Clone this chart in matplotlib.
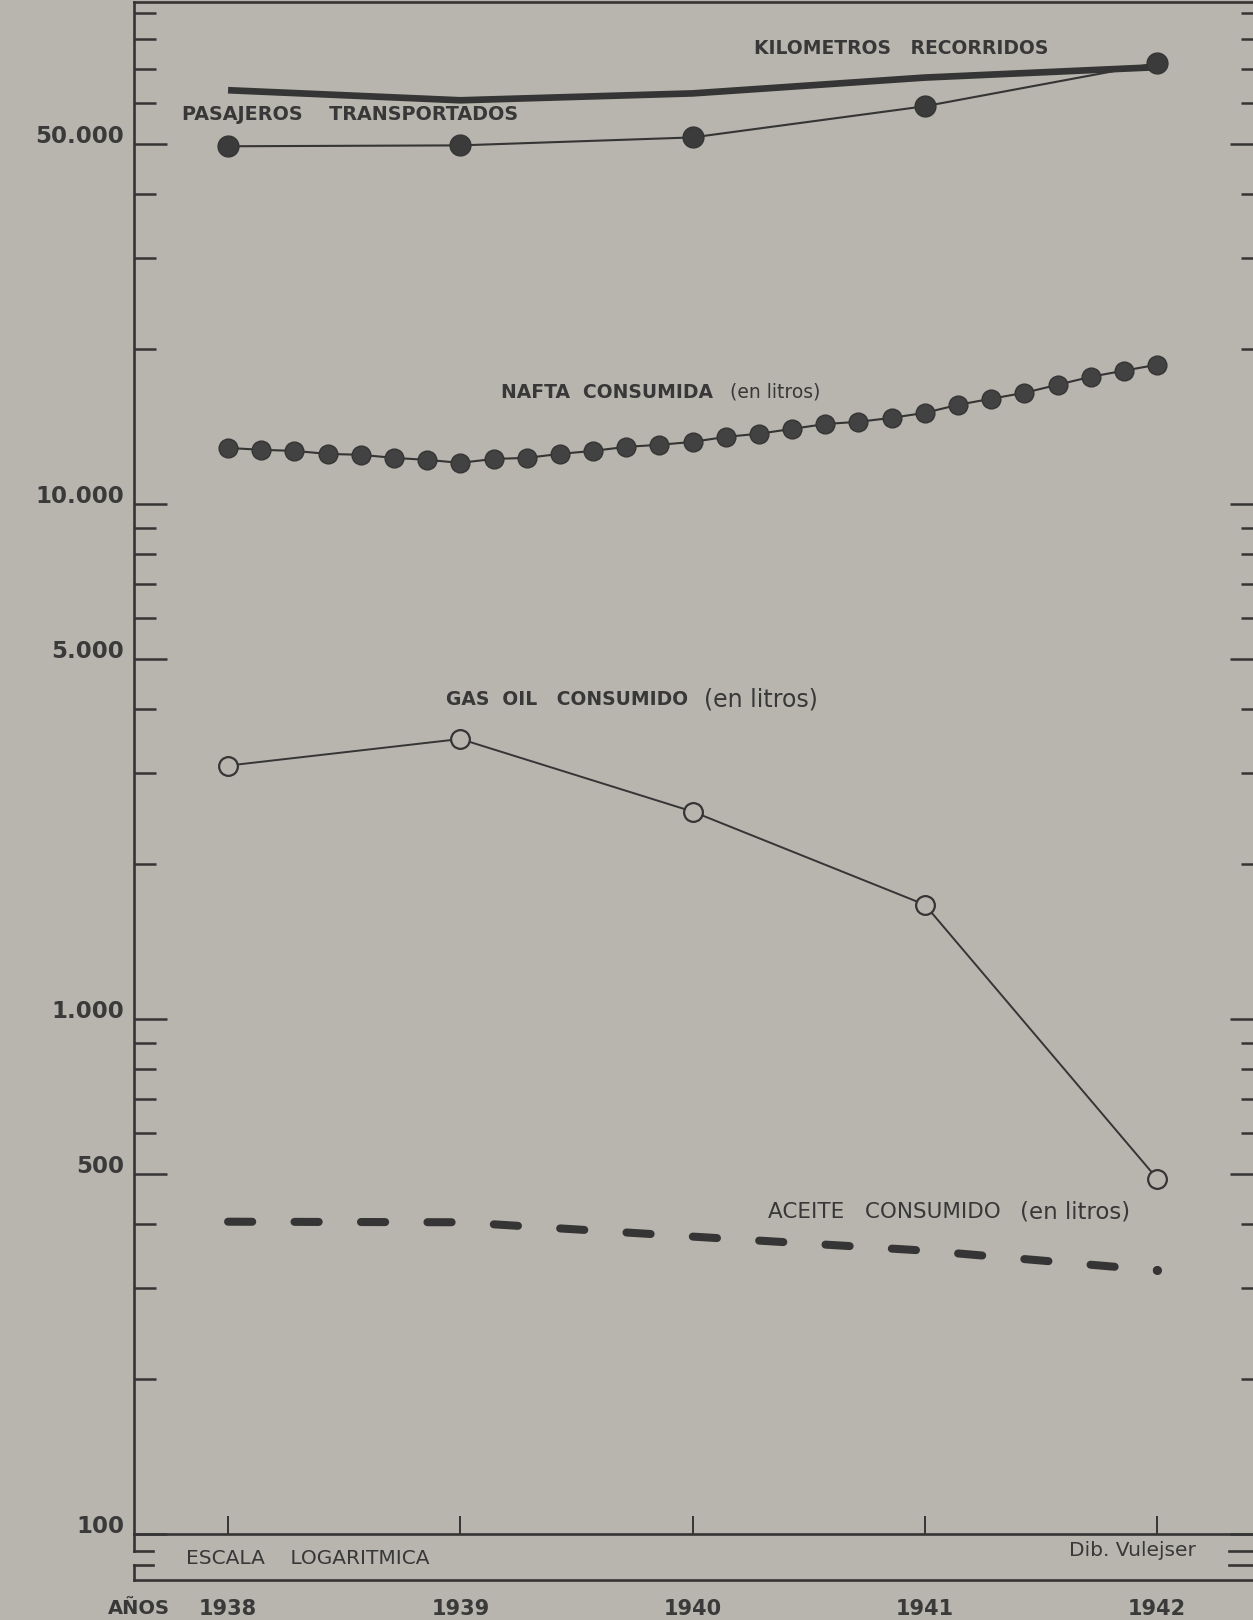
import numpy as np
import matplotlib
matplotlib.use("Agg")
from matplotlib import pyplot as plt
from matplotlib.lines import Line2D
from matplotlib.ticker import FixedLocator, FixedFormatter, NullFormatter
import matplotlib.transforms as mtransforms

W, H, DPI = 1253, 1620, 100
PAPER = '#b8b5ae'
INK = '#353535'

# datos (escala logaritmica)
years = [1938, 1939, 1940, 1941, 1942]
pasajeros = [49500, 49700, 51500, 59200, 71800]
kilometros = [63600, 60800, 62700, 67300, 70500]
gas_oil = [3105, 3497, 2528, 1667, 490]
aceite = [404, 403, 378, 355, 325]

# nafta: 7 lecturas por año, 1938 -> 1942
nafta = [12850, 12740, 12680, 12510, 12460, 12290, 12180, 12020,
         12230, 12290, 12510, 12680, 12910, 13030, 13200, 13500,
         13690, 13990, 14300, 14440, 14700, 15030, 15580, 16010,
         16440, 17040, 17660, 18150, 18640]
nafta_years = years[0] + np.arange(len(nafta)) / 7

major_vals = [100, 500, 1000, 5000, 10000, 50000]
major_labels = ['100', '500', '1.000', '5.000', '10.000', '50.000']
minor_vals = [200, 300, 400, 600, 700, 800, 900,
              2000, 3000, 4000, 6000, 7000, 8000, 9000,
              20000, 30000, 40000, 60000, 70000, 80000, 90000]


def fx(x):
    return x / W


def fy(y):
    return 1 - y / H


fig = plt.figure(figsize=(W / DPI, H / DPI), dpi=DPI, facecolor=PAPER)
ax = fig.add_axes([fx(134), fy(1534), (1263 - 134) / W, (1534 - 2) / H])
ax.set_facecolor(PAPER)
ax.set_yscale('log')
ax.set_ylim(100, 94350)
ax.set_xlim(1937.595, 1942.456)

# kilometros recorridos (linea gruesa)
ax.plot(years, kilometros, color=INK, lw=4.8, solid_capstyle='butt',
        solid_joinstyle='round')
# pasajeros transportados
ax.plot(years, pasajeros, color=INK, lw=1.5, marker='o', ms=15,
        mfc='#3b3b3b', mec=INK)
# nafta consumida
ax.plot(nafta_years, nafta, color=INK, lw=1.5, marker='o', ms=13.5,
        mfc='#424242', mec=INK)
# gas oil consumido
ax.plot(years, gas_oil, color=INK, lw=1.4, marker='o', ms=13.5,
        mfc=PAPER, mec=INK, mew=1.6)
# aceite consumido (trazos)
ax.plot(years, aceite, color=INK, lw=5.8, dashes=(3, 5.25),
        dash_capstyle='round', marker='o', ms=5.5, markevery=[len(aceite) - 1],
        mfc=INK, mec=INK)

# ejes
for side in ['left', 'top', 'bottom']:
    ax.spines[side].set_color(INK)
    ax.spines[side].set_linewidth(1.9)
ax.spines['right'].set_visible(False)

ax.yaxis.set_major_locator(FixedLocator(major_vals))
ax.yaxis.set_major_formatter(FixedFormatter(major_labels))
ax.yaxis.set_minor_locator(FixedLocator(minor_vals))
ax.yaxis.set_minor_formatter(NullFormatter())
ax.tick_params(axis='y', which='major', direction='in', length=24, width=1.8,
               color=INK, left=True, right=True, pad=7,
               labelsize=16.5, labelcolor='#3a3a3a')
ax.tick_params(axis='y', which='minor', direction='in', length=16, width=1.8,
               color=INK, left=True, right=True)
for lab in ax.get_yticklabels():
    lab.set_fontweight('bold')
    lab.set_transform(lab.get_transform() +
                      mtransforms.ScaledTranslation(0, 0.1, fig.dpi_scale_trans))

ax.set_xticks(years)
ax.set_xticklabels([str(y) for y in years])
ax.tick_params(axis='x', direction='in', length=13, width=1.4, color=INK,
               pad=47, labelsize=15, labelcolor='#3a3a3a')
for lab in ax.get_xticklabels():
    lab.set_fontweight('bold')

# franja inferior
strip = dict(color=INK, lw=1.9, transform=fig.transFigure)
fig.add_artist(Line2D([fx(134), fx(1253)], [fy(1580), fy(1580)], **strip))
fig.add_artist(Line2D([fx(134), fx(134)], [fy(1534), fy(1551)], **strip))
fig.add_artist(Line2D([fx(134), fx(134)], [fy(1565), fy(1580)], **strip))
for yy in [1551, 1565]:
    fig.add_artist(Line2D([fx(134), fx(153)], [fy(yy), fy(yy)], **strip))
    fig.add_artist(Line2D([fx(1229), fx(1253)], [fy(yy), fy(yy)], **strip))

# rotulos
lab = dict(color='#383838', fontweight='bold', va='center', ha='left')
thin = dict(color='#383838', fontweight='normal', va='center', ha='left')
fig.text(fx(754), fy(49), 'KILOMETROS   RECORRIDOS', fontsize=13.5, **lab)
fig.text(fx(182), fy(114), 'PASAJEROS    TRANSPORTADOS', fontsize=13.8, **lab)
fig.text(fx(501), fy(392), 'NAFTA  CONSUMIDA', fontsize=13.5, **lab)
fig.text(fx(730), fy(392), '(en litros)', fontsize=13.5, **thin)
fig.text(fx(446), fy(700), 'GAS  OIL   CONSUMIDO', fontsize=13.5, **lab)
fig.text(fx(704), fy(700), '(en litros)', fontsize=17, **thin)
fig.text(fx(768), fy(1212), 'ACEITE   CONSUMIDO', fontsize=15.5, **thin)
fig.text(fx(1020), fy(1212), '(en litros)', fontsize=16.5, **thin)
fig.text(fx(186), fy(1558), 'ESCALA    LOGARITMICA', fontsize=14.5, **thin)
fig.text(fx(1069), fy(1550), 'Dib. Vulejser', fontsize=14.5, **thin)
fig.text(fx(108), fy(1608), 'AÑOS', fontsize=14, **lab)

fig.savefig('out.png', dpi=DPI, facecolor=PAPER)
